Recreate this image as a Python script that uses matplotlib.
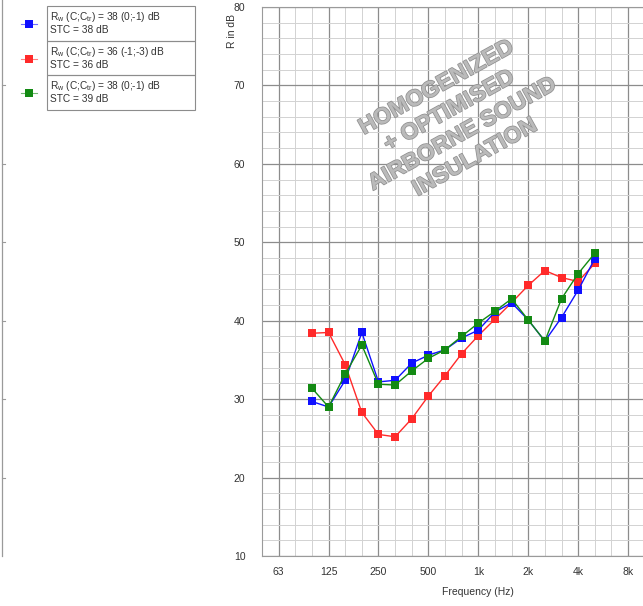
import numpy as np
import matplotlib
matplotlib.use("Agg")
import matplotlib.pyplot as plt
import matplotlib.patheffects as pe
from matplotlib.lines import Line2D
from matplotlib.patches import Rectangle

plt.rcParams['font.family'] = ['Liberation Sans', 'DejaVu Sans']
plt.rcParams['mathtext.fontset'] = 'custom'
plt.rcParams['mathtext.rm'] = 'Liberation Sans'

# third-octave bands 100 Hz .. 5 kHz
band_index = list(range(-10, 8))
freqs = [1000 * 2 ** (n / 3) for n in band_index]

r_blue = [29.7, 29.0, 32.4, 38.5, 32.2, 32.4, 34.6, 35.6, 36.3, 37.8, 38.8,
          41.1, 42.3, 40.1, 37.4, 40.4, 43.9, 47.9]
r_red = [38.4, 38.5, 34.4, 28.3, 25.5, 25.2, 27.5, 30.4, 33.0, 35.8, 38.1,
         40.2, 42.3, 44.5, 46.4, 45.5, 45.0, 47.3]
r_green = [31.4, 29.0, 33.2, 36.9, 31.9, 31.8, 33.6, 35.2, 36.3, 38.0, 39.7,
           41.2, 42.8, 40.1, 37.4, 42.8, 46.0, 48.6]

series_colors = ['#1010ff', '#ff2a2a', '#138a13']
legend_lines = [
    ("R$_\\mathrm{w}$ (C;C$_\\mathrm{tr}$) = 38 (0;-1) dB", "STC = 38 dB"),
    ("R$_\\mathrm{w}$ (C;C$_\\mathrm{tr}$) = 36 (-1;-3) dB", "STC = 36 dB"),
    ("R$_\\mathrm{w}$ (C;C$_\\mathrm{tr}$) = 38 (0;-1) dB", "STC = 39 dB"),
]

tick_labels = ["63", "125", "250", "500", "1k", "2k", "4k", "8k"]
tick_freqs = [1000 * 2 ** n for n in range(-4, 4)]
watermark = "HOMOGENIZED\n+ OPTIMISED\nAIRBORNE SOUND\nINSULATION"

W, H = 643, 606
fig = plt.figure(figsize=(W / 100, H / 100), dpi=100)

x0, x1 = 262, 644.7
y_top, y_bot = 7, 556
ax = fig.add_axes([x0 / W, 1 - y_bot / H, (x1 - x0) / W, (y_bot - y_top) / H])

ax.set_xscale('log', base=2)
ax.set_xlim(1000 * 2 ** (-13 / 3), 1000 * 2 ** (10 / 3))
ax.set_ylim(10, 80)

ax.set_xticks(tick_freqs)
ax.set_xticklabels(tick_labels)
ax.set_xticks([1000 * 2 ** (n / 3) for n in range(-13, 11)], minor=True)
ax.xaxis.set_minor_formatter(plt.NullFormatter())
ax.set_yticks(range(10, 81, 10))
ax.set_yticks(range(10, 81, 2), minor=True)
ax.tick_params(which='both', length=0, labelsize=7.5, colors='#333333')
ax.tick_params(axis='y', pad=12)
ax.tick_params(axis='x', pad=8)

ax.grid(which='major', color='#8c8c8c', linewidth=0.9)
ax.grid(which='minor', color='#d2d2d2', linewidth=0.7)
ax.set_axisbelow(True)
for s in ax.spines.values():
    s.set_color('#9a9a9a')
    s.set_linewidth(0.8)

for vals, c in zip([r_red, r_blue, r_green], [series_colors[1], series_colors[0], series_colors[2]]):
    ax.plot(freqs, vals, color=c, linewidth=1.0, marker='s', markersize=5.5,
            markeredgewidth=0, zorder=3)

ax.text(0.505, 0.79, watermark, transform=ax.transAxes, rotation=29,
        ha='center', va='center', multialignment='center',
        fontsize=16.5, fontweight='bold', color='#bababa', linespacing=1.2,
        path_effects=[pe.withStroke(linewidth=1.1, foreground='#909090')],
        zorder=2)

fig.text(232 / W, 1 - 14 / H, "R in dB", rotation=90, ha='center', va='top',
         fontsize=7.5, color='#333333')
fig.text(478 / W, 1 - 592 / H, "Frequency (Hz)", ha='center', va='center',
         fontsize=7.5, color='#333333')

# legend drawn in pixel-like figure coordinates
box_x0, box_x1 = 47, 195
row_edges = [6, 41, 75, 110]
for i, (l1, l2) in enumerate(legend_lines):
    ya, yb = row_edges[i], row_edges[i + 1]
    fig.add_artist(Rectangle((box_x0 / W, 1 - yb / H), (box_x1 - box_x0) / W,
                             (yb - ya) / H, transform=fig.transFigure,
                             fill=False, edgecolor='#8c8c8c', linewidth=0.8))
    fig.text(50 / W, 1 - (ya + 11) / H, l1, fontsize=7.3, color='#333333', va='center')
    fig.text(50 / W, 1 - (ya + 24) / H, l2, fontsize=7.3, color='#333333', va='center')
    ym = 1 - (ya + 18) / H
    fig.add_artist(Line2D([21 / W, 37 / W], [ym, ym], transform=fig.transFigure,
                          color=series_colors[i], linewidth=0.8, alpha=0.6))
    fig.add_artist(Line2D([29 / W], [ym], transform=fig.transFigure,
                          color=series_colors[i], marker='s', markersize=5.5,
                          markeredgewidth=0))

# stray frame edge on the far left, with small ticks
fig.add_artist(Line2D([1.5 / W, 1.5 / W], [1 - 556 / H, 1], transform=fig.transFigure,
                      color='#9a9a9a', linewidth=0.9))
for v in range(20, 80, 10):
    yy = ax.transData.transform((1000, v))[1] / H
    fig.add_artist(Line2D([1.5 / W, 4.5 / W], [yy, yy], transform=fig.transFigure,
                          color='#9a9a9a', linewidth=0.8))

fig.savefig("out.png", dpi=100)
